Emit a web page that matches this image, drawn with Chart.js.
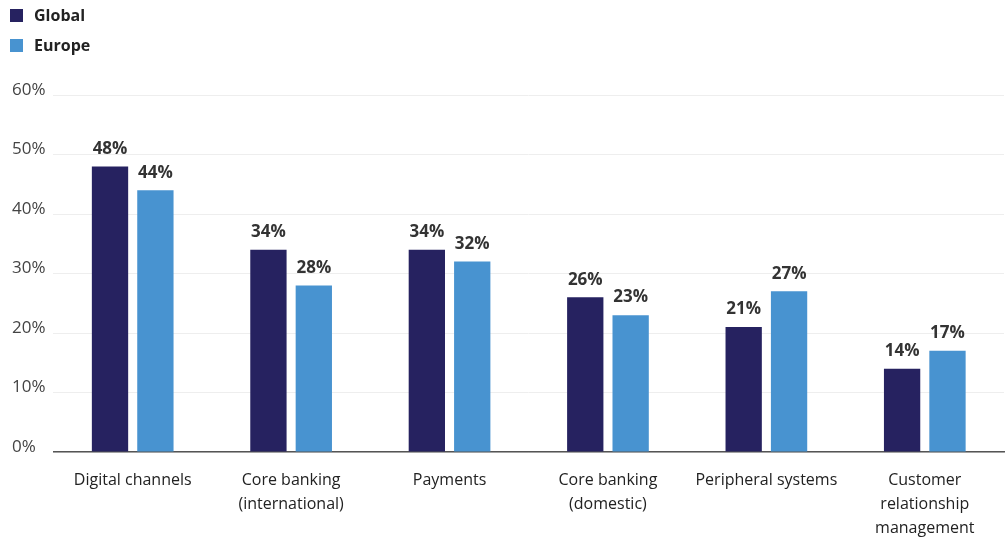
<!DOCTYPE html>
<html>
<head>
<meta charset="utf-8">
<script src="https://cdn.jsdelivr.net/npm/chart.js@4.4.0/dist/chart.umd.min.js"></script>
<style>
  html, body { margin: 0; padding: 0; background: #fff; }
  #wrap { position: relative; width: 1006px; height: 540px; }
  #legend { position: absolute; left: 10px; top: 0px; font-family: "Open Sans", sans-serif; font-weight: 700; font-size: 16px; color: #222; }
  #legend div { display: flex; align-items: center; height: 30px; }
  #legend span.box { display: inline-block; width: 13px; height: 13px; margin-right: 11px; }
</style>
</head>
<body>
<div id="wrap">
  <canvas id="chart" width="1006" height="540"></canvas>
  <div id="legend"></div>
</div>
<script>
// Categories and series
const categories = [
  'Digital channels',
  ['Core banking', '(international)'],
  'Payments',
  ['Core banking', '(domestic)'],
  'Peripheral systems',
  ['Customer', 'relationship', 'management']
];
const globalValues = [48, 34, 34, 26, 21, 14];
const europeValues = [44, 28, 32, 23, 27, 17];
const yTicks = [0, 10, 20, 30, 40, 50, 60];

const navy = '#262260';
const blue = '#4893d0';
const fontFamily = '"Open Sans", sans-serif';

// Draws the percentage above each bar
const valueLabels = {
  id: 'valueLabels',
  afterDatasetsDraw(chart) {
    const ctx = chart.ctx;
    ctx.save();
    ctx.font = '700 17px ' + fontFamily;
    ctx.fillStyle = '#333';
    ctx.textAlign = 'center';
    ctx.textBaseline = 'bottom';
    chart.data.datasets.forEach((ds, i) => {
      chart.getDatasetMeta(i).data.forEach((bar, j) => {
        ctx.fillText(ds.data[j] + '%', bar.x, bar.y - 9);
      });
    });
    ctx.restore();
  }
};

const chart = new Chart(document.getElementById('chart'), {
  type: 'bar',
  data: {
    labels: categories,
    datasets: [
      { label: 'Global', data: globalValues, backgroundColor: navy },
      { label: 'Europe', data: europeValues, backgroundColor: blue }
    ]
  },
  options: {
    responsive: false,
    animation: false,
    layout: { padding: { top: 95, left: 12, right: 2, bottom: 0 } },
    categoryPercentage: 0.573,
    barPercentage: 0.8,
    plugins: {
      legend: { display: false },
      tooltip: { enabled: false }
    },
    scales: {
      x: {
        grid: { display: false },
        border: { display: true, color: '#555', width: 1.5 },
        afterFit: axis => { axis.height = 88; },
        ticks: {
          color: '#222',
          padding: 8,
          maxRotation: 0,
          autoSkip: false,
          font: { family: fontFamily, size: 16, weight: 500, lineHeight: 1.5 }
        }
      },
      y: {
        min: 0,
        max: 60,
        afterBuildTicks: axis => { axis.ticks = yTicks.map(v => ({ value: v })); },
        grid: { color: '#eeeeee', drawTicks: false },
        border: { display: false },
        ticks: {
          color: '#444',
          padding: 4,
          crossAlign: 'far',
          labelOffset: -5,
          font: { family: fontFamily, size: 17 },
          callback: v => v + '%'
        }
      }
    }
  },
  plugins: [valueLabels]
});

// Legend stacked vertically in the top-left corner
const legend = document.getElementById('legend');
chart.data.datasets.forEach(ds => {
  const row = document.createElement('div');
  row.innerHTML = '<span class="box" style="background:' + ds.backgroundColor + '"></span>' + ds.label;
  legend.appendChild(row);
});
</script>
</body>
</html>
